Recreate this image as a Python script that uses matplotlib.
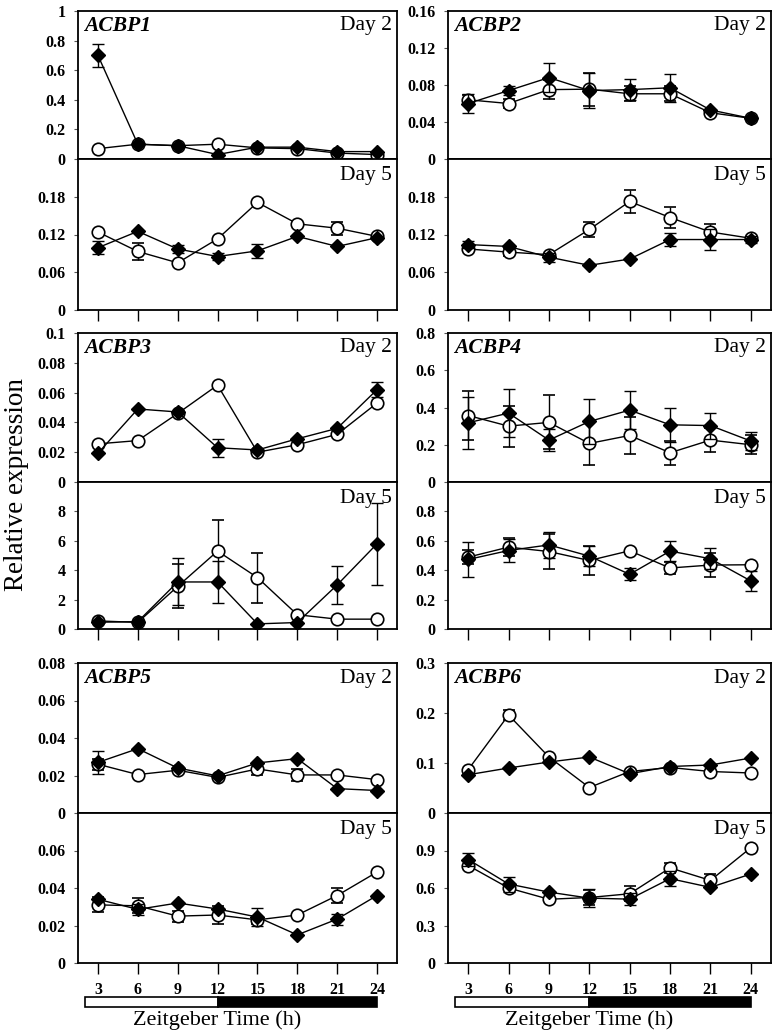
import matplotlib
matplotlib.use('Agg')
import matplotlib.pyplot as plt
import matplotlib.ticker as mtick
import numpy as np

plt.rcParams['font.family'] = ['Liberation Serif', 'DejaVu Serif']

W, H = 776, 1036

zt = [3, 6, 9, 12, 15, 18, 21, 24]

# ── data: open circles / filled diamonds, Day 2 and Day 5 ─────────────────
acbp1_d2_open = [0.07, 0.10, 0.09, 0.10, 0.075, 0.07, 0.04, 0.03]
acbp1_d2_open_err = [0, 0, 0, 0, 0, 0, 0, 0]
acbp1_d2_fill = [0.70, 0.10, 0.09, 0.03, 0.08, 0.08, 0.05, 0.05]
acbp1_d2_fill_err = [0.08, 0, 0, 0, 0, 0, 0, 0]
acbp1_d5_open = [0.124, 0.093, 0.075, 0.113, 0.171, 0.137, 0.130, 0.117]
acbp1_d5_open_err = [0, 0.013, 0, 0, 0, 0, 0.01, 0]
acbp1_d5_fill = [0.099, 0.125, 0.097, 0.085, 0.094, 0.117, 0.101, 0.115]
acbp1_d5_fill_err = [0.01, 0, 0.006, 0.006, 0.011, 0, 0, 0]

acbp2_d2_open = [0.064, 0.060, 0.075, 0.0755, 0.0705, 0.0705, 0.050, 0.044]
acbp2_d2_open_err = [0.005, 0.005, 0.01, 0.018, 0.008, 0.008, 0, 0]
acbp2_d2_fill = [0.060, 0.074, 0.088, 0.074, 0.075, 0.077, 0.053, 0.044]
acbp2_d2_fill_err = [0.01, 0.005, 0.016, 0.019, 0.011, 0.015, 0, 0]
acbp2_d5_open = [0.097, 0.092, 0.088, 0.128, 0.1725, 0.147, 0.124, 0.114]
acbp2_d5_open_err = [0, 0.006, 0, 0.012, 0.018, 0.017, 0.013, 0]
acbp2_d5_fill = [0.104, 0.101, 0.084, 0.071, 0.081, 0.112, 0.112, 0.112]
acbp2_d5_fill_err = [0.006, 0, 0.007, 0, 0, 0.01, 0.017, 0.006]

acbp3_d2_open = [0.0256, 0.0278, 0.046, 0.065, 0.020, 0.025, 0.032, 0.053]
acbp3_d2_open_err = [0, 0, 0, 0, 0, 0, 0, 0]
acbp3_d2_fill = [0.0193, 0.049, 0.047, 0.023, 0.0215, 0.029, 0.036, 0.062]
acbp3_d2_fill_err = [0, 0, 0, 0.006, 0, 0, 0, 0.005]
acbp3_d5_open = [0.55, 0.45, 2.9, 5.3, 3.5, 0.97, 0.67, 0.67]
acbp3_d5_open_err = [0, 0, 1.5, 2.1, 1.7, 0, 0, 0]
acbp3_d5_fill = [0.46, 0.5, 3.2, 3.2, 0.35, 0.44, 3.0, 5.8]
acbp3_d5_fill_err = [0, 0, 1.6, 1.4, 0, 0, 1.3, 2.8]

acbp4_d2_open = [0.357, 0.30, 0.32, 0.207, 0.25, 0.157, 0.225, 0.20]
acbp4_d2_open_err = [0.13, 0.11, 0.145, 0.115, 0.10, 0.065, 0.065, 0.05]
acbp4_d2_fill = [0.318, 0.37, 0.225, 0.325, 0.386, 0.307, 0.303, 0.22]
acbp4_d2_fill_err = [0.14, 0.13, 0.06, 0.12, 0.10, 0.09, 0.07, 0.05]
acbp4_d5_open = [0.489, 0.557, 0.527, 0.466, 0.532, 0.415, 0.435, 0.437]
acbp4_d5_open_err = [0.05, 0.06, 0.12, 0.10, 0, 0.04, 0.08, 0]
acbp4_d5_fill = [0.473, 0.534, 0.572, 0.496, 0.372, 0.53, 0.478, 0.327]
acbp4_d5_fill_err = [0.12, 0.08, 0.09, 0.07, 0.04, 0.07, 0.07, 0.07]

acbp5_d2_open = [0.026, 0.0205, 0.0228, 0.019, 0.0235, 0.0203, 0.0203, 0.0178]
acbp5_d2_open_err = [0.003, 0, 0, 0, 0.003, 0.003, 0, 0]
acbp5_d2_fill = [0.027, 0.0343, 0.024, 0.0198, 0.0267, 0.029, 0.013, 0.012]
acbp5_d2_fill_err = [0.006, 0, 0, 0, 0, 0, 0, 0]
acbp5_d5_open = [0.031, 0.0305, 0.025, 0.0256, 0.023, 0.0256, 0.036, 0.0485]
acbp5_d5_open_err = [0.004, 0.004, 0.003, 0.005, 0.002, 0, 0.004, 0]
acbp5_d5_fill = [0.034, 0.0286, 0.032, 0.0288, 0.0245, 0.015, 0.0234, 0.036]
acbp5_d5_fill_err = [0, 0.003, 0, 0, 0.005, 0, 0.003, 0]

acbp6_d2_open = [0.0867, 0.196, 0.112, 0.051, 0.083, 0.091, 0.083, 0.08]
acbp6_d2_open_err = [0, 0.01, 0, 0, 0, 0, 0, 0]
acbp6_d2_fill = [0.0765, 0.09, 0.102, 0.112, 0.0785, 0.093, 0.096, 0.110]
acbp6_d2_fill_err = [0, 0, 0, 0, 0, 0, 0, 0]
acbp6_d5_open = [0.78, 0.60, 0.51, 0.524, 0.554, 0.761, 0.661, 0.922]
acbp6_d5_open_err = [0, 0, 0, 0.06, 0.06, 0.04, 0.05, 0]
acbp6_d5_fill = [0.828, 0.632, 0.567, 0.519, 0.511, 0.675, 0.605, 0.712]
acbp6_d5_fill_err = [0.05, 0.06, 0, 0.07, 0.05, 0.06, 0, 0]

genes = ['ACBP1', 'ACBP2', 'ACBP3', 'ACBP4', 'ACBP5', 'ACBP6']
# (ymax, step) for Day 2 and Day 5 panels
d2_scale = [(1, 0.2), (0.16, 0.04), (0.1, 0.02), (0.8, 0.2), (0.08, 0.02), (0.3, 0.1)]
d5_scale = [(0.24, 0.06), (0.24, 0.06), (10, 2), (1.0, 0.2), (0.08, 0.02), (1.2, 0.3)]

series = [
    (acbp1_d2_open, acbp1_d2_open_err, acbp1_d2_fill, acbp1_d2_fill_err,
     acbp1_d5_open, acbp1_d5_open_err, acbp1_d5_fill, acbp1_d5_fill_err),
    (acbp2_d2_open, acbp2_d2_open_err, acbp2_d2_fill, acbp2_d2_fill_err,
     acbp2_d5_open, acbp2_d5_open_err, acbp2_d5_fill, acbp2_d5_fill_err),
    (acbp3_d2_open, acbp3_d2_open_err, acbp3_d2_fill, acbp3_d2_fill_err,
     acbp3_d5_open, acbp3_d5_open_err, acbp3_d5_fill, acbp3_d5_fill_err),
    (acbp4_d2_open, acbp4_d2_open_err, acbp4_d2_fill, acbp4_d2_fill_err,
     acbp4_d5_open, acbp4_d5_open_err, acbp4_d5_fill, acbp4_d5_fill_err),
    (acbp5_d2_open, acbp5_d2_open_err, acbp5_d2_fill, acbp5_d2_fill_err,
     acbp5_d5_open, acbp5_d5_open_err, acbp5_d5_fill, acbp5_d5_fill_err),
    (acbp6_d2_open, acbp6_d2_open_err, acbp6_d2_fill, acbp6_d2_fill_err,
     acbp6_d5_open, acbp6_d5_open_err, acbp6_d5_fill, acbp6_d5_fill_err),
]

# light / dark bar (ZT hours)
light_span = (2, 12)
dark_span = (12, 24)

# ── layout in pixels ───────────────────────────────────────────────────────
cols = [(78, 397), (448, 771)]
rows = [(11, 159, 310), (333, 482, 629), (663, 813, 963)]
XLIM = (1.5, 25.5)

fig = plt.figure(figsize=(W / 100, H / 100), dpi=100)


def px_axes(l, t, r, b):
    return fig.add_axes([l / W, 1 - b / H, (r - l) / W, (b - t) / H])


def style(ax, ymax, step, top_label):
    ax.set_xlim(*XLIM)
    ax.set_ylim(0, ymax)
    ticks = np.round(np.arange(0, ymax + step / 2, step), 4)
    if not top_label:
        ticks = ticks[:-1]
    ax.yaxis.set_major_locator(mtick.FixedLocator(ticks))
    ax.yaxis.set_major_formatter(mtick.FuncFormatter(lambda v, p: f'{v:g}'))
    ax.tick_params(axis='y', direction='out', length=3, width=0.8, pad=6,
                   labelsize=11.5, color='#555')
    for lab in ax.get_yticklabels():
        lab.set_fontweight('bold')
    for s in ax.spines.values():
        s.set_linewidth(1.3)


def draw(ax, yo, eo, yf, ef):
    ax.errorbar(zt, yo, yerr=eo, color='black', lw=1, marker='o', ms=9,
                mfc='white', mec='black', mew=1.2, capsize=4, elinewidth=1,
                capthick=1, zorder=3)
    ax.errorbar(zt, yf, yerr=ef, color='black', lw=1, marker='D', ms=7.5,
                mfc='black', mec='black', capsize=4, elinewidth=1,
                capthick=1, zorder=4)


for i, gene in enumerate(genes):
    r, c = divmod(i, 2)
    l, rr = cols[c]
    t, m, b = rows[r]
    d2o, d2oe, d2f, d2fe, d5o, d5oe, d5f, d5fe = series[i]

    ax2 = px_axes(l, t, rr, m)
    style(ax2, *d2_scale[i], top_label=True)
    ax2.set_xticks([])
    draw(ax2, d2o, d2oe, d2f, d2fe)
    ax2.text(0.02, 0.9, gene, transform=ax2.transAxes, fontsize=15.5,
             fontweight='bold', style='italic', va='center', ha='left')
    ax2.text(0.985, 0.9, 'Day 2', transform=ax2.transAxes, fontsize=15.5,
             va='center', ha='right')

    ax5 = px_axes(l, m, rr, b)
    style(ax5, *d5_scale[i], top_label=False)
    ax5.set_xticks(zt)
    ax5.tick_params(axis='x', direction='out', length=8, width=1, pad=6,
                    labelsize=11.5, labelbottom=(r == 2))
    for lab in ax5.get_xticklabels():
        lab.set_fontweight('bold')
    draw(ax5, d5o, d5oe, d5f, d5fe)
    ax5.text(0.985, 0.89, 'Day 5', transform=ax5.transAxes, fontsize=15.5,
             va='center', ha='right')

    if r == 2:
        axb = px_axes(l, 996, rr, 1008)
        axb.set_xlim(*XLIM)
        axb.set_ylim(-0.1, 1.1)
        axb.barh(0.5, light_span[1] - light_span[0], left=light_span[0],
                 height=1, color='white', edgecolor='black', lw=1.2)
        axb.barh(0.5, dark_span[1] - dark_span[0], left=dark_span[0],
                 height=1, color='black', edgecolor='black', lw=1.2)
        axb.axis('off')
        fig.text((l + rr) / 2 / W - 0.026, 1 - 1020 / H, 'Zeitgeber Time (h)',
                 fontsize=16, ha='center', va='center')

fig.text(17 / W, 1 - 485 / H, 'Relative expression', rotation=90,
         fontsize=19.5, ha='center', va='center')

fig.savefig('out.png', dpi=100, facecolor='white')
